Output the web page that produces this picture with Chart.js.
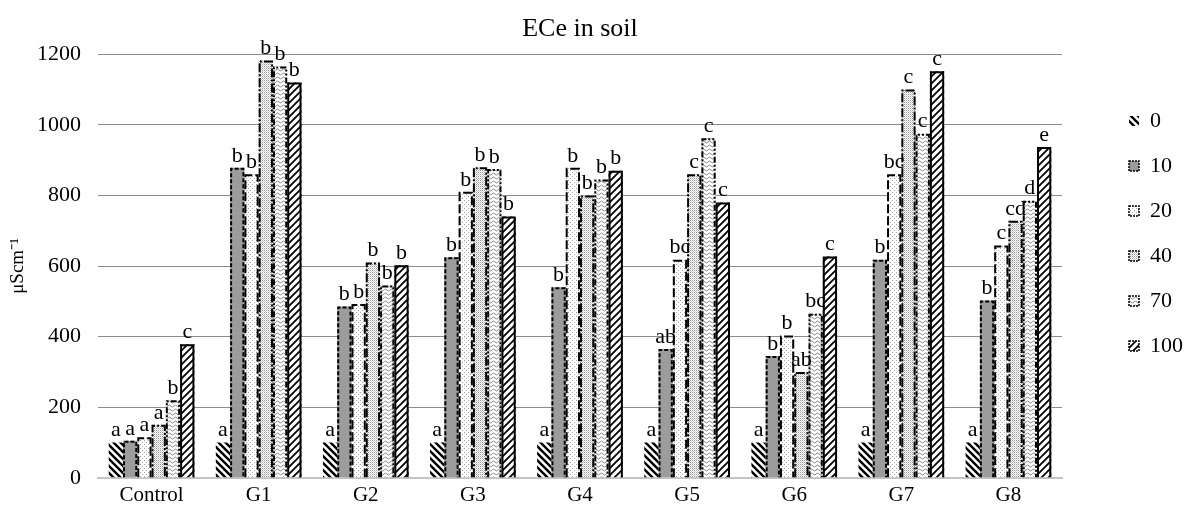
<!DOCTYPE html>
<html>
<head>
<meta charset="utf-8">
<script src="https://cdn.jsdelivr.net/npm/chart.js@4.4.1/dist/chart.umd.min.js"></script>
<style>
    html, body { margin: 0; padding: 0; background: #fff; }
    #wrap { width: 1193px; height: 513px; }
</style>
</head>
<body>
<div id="wrap"><canvas id="eceChart"></canvas></div>
<script>
// Categories and series
const groups = ['Control', 'G1', 'G2', 'G3', 'G4', 'G5', 'G6', 'G7', 'G8'];
const seriesNames = ['0', '10', '20', '40', '70', '100'];

// ECe values (µS/cm)
const ece0   = [100, 100, 100, 100, 100, 100, 100, 100, 100];
const ece10  = [105, 878, 485, 625, 540, 365, 345, 618, 502];
const ece20  = [115, 860, 492, 810, 878, 618, 403, 860, 658];
const ece40  = [150, 1182, 610, 880, 800, 860, 300, 1100, 728];
const ece70  = [220, 1165, 545, 875, 845, 962, 465, 975, 785];
const ece100 = [378, 1120, 602, 740, 870, 780, 627, 1152, 937];

// Significance letters above each bar
const let0   = ['a', 'a', 'a', 'a', 'a', 'a', 'a', 'a', 'a'];
const let10  = ['a', 'b', 'b', 'b', 'b', 'ab', 'b', 'b', 'b'];
const let20  = ['a', 'b', 'b', 'b', 'b', 'bc', 'b', 'bc', 'c'];
const let40  = ['a', 'b', 'b', 'b', 'b', 'c', 'ab', 'c', 'cd'];
const let70  = ['b', 'b', 'b', 'b', 'b', 'c', 'bc', 'c', 'd'];
const let100 = ['c', 'b', 'b', 'b', 'b', 'c', 'c', 'c', 'e'];

// Y axis ticks
const yTicks = [0, 200, 400, 600, 800, 1000, 1200];

const serif = "'Liberation Serif', 'Times New Roman', serif";

// Small pattern tiles to mimic the Excel fills
function tile(w, h, draw) {
    const c = document.createElement('canvas');
    c.width = w; c.height = h;
    const g = c.getContext('2d');
    g.fillStyle = '#fff';
    g.fillRect(0, 0, w, h);
    draw(g);
    return document.createElement('canvas').getContext('2d').createPattern(c, 'repeat');
}

function hatch(gap, lw, forward) {
    return tile(gap, gap, function(g) {
        g.strokeStyle = '#000';
        g.lineWidth = lw;
        g.beginPath();
        if (forward) {
            g.moveTo(-1, gap + 1); g.lineTo(gap + 1, -1);
            g.moveTo(-gap / 2 - 1, gap / 2 + 1); g.lineTo(gap / 2 + 1, -gap / 2 - 1);
            g.moveTo(gap / 2 - 1, gap * 1.5 + 1); g.lineTo(gap * 1.5 + 1, gap / 2 - 1);
        } else {
            g.moveTo(-1, -1); g.lineTo(gap + 1, gap + 1);
            g.moveTo(-gap / 2 - 1, gap / 2 - 1); g.lineTo(gap / 2 + 1, gap * 1.5 + 1);
            g.moveTo(gap / 2 - 1, -gap / 2 - 1); g.lineTo(gap * 1.5 + 1, gap / 2 + 1);
        }
        g.stroke();
    });
}

const fills = [
    hatch(7, 2.4, false),
    '#9c9c9c',
    tile(4, 4, function(g) {
        g.fillStyle = '#a8a8a8';
        g.fillRect(0, 0, 1, 1);
        g.fillRect(2, 2, 1, 1);
    }),
    tile(2, 2, function(g) {
        g.fillStyle = '#999';
        g.fillRect(0, 0, 1, 1);
        g.fillStyle = '#d0d0d0';
        g.fillRect(1, 1, 1, 1);
    }),
    tile(6, 4, function(g) {
        g.strokeStyle = '#8a8a8a';
        g.lineWidth = 1;
        g.beginPath();
        g.moveTo(0, 2); g.lineTo(1.5, 1); g.lineTo(3, 2); g.lineTo(4.5, 3); g.lineTo(6, 2);
        g.stroke();
    }),
    hatch(7, 1.8, true)
];

// Outline style per series (0 has none)
const outlineDash = [null, [4, 2], [9, 3], [9, 2, 2, 2], [6, 2, 2, 2, 2, 2], []];

const seriesValues = [ece0, ece10, ece20, ece40, ece70, ece100];
const seriesLetters = [let0, let10, let20, let40, let70, let100];

// Dashed outlines drawn over the bars that the library placed
const barOutlines = {
    id: 'barOutlines',
    afterDatasetsDraw(chart) {
        const ctx = chart.ctx;
        ctx.save();
        chart.data.datasets.forEach(function(ds, i) {
            const dash = outlineDash[i];
            if (!dash) return;
            chart.getDatasetMeta(i).data.forEach(function(bar) {
                const p = bar.getProps(['x', 'y', 'base', 'width'], true);
                const l = p.x - p.width / 2 + 1, r = p.x + p.width / 2 - 1;
                ctx.beginPath();
                ctx.setLineDash(dash);
                ctx.lineWidth = 2;
                ctx.strokeStyle = '#000';
                ctx.moveTo(l, p.base);
                ctx.lineTo(l, p.y + 1);
                ctx.lineTo(r, p.y + 1);
                ctx.lineTo(r, p.base);
                ctx.stroke();
            });
        });
        ctx.restore();
    }
};

// Letters above each bar
const barLetters = {
    id: 'barLetters',
    afterDatasetsDraw(chart) {
        const ctx = chart.ctx;
        ctx.save();
        ctx.font = '22px ' + serif;
        ctx.fillStyle = '#000';
        ctx.textAlign = 'center';
        ctx.textBaseline = 'bottom';
        chart.data.datasets.forEach(function(ds, i) {
            chart.getDatasetMeta(i).data.forEach(function(bar, j) {
                ctx.fillText(seriesLetters[i][j], bar.x, bar.y - 1);
            });
        });
        ctx.restore();
    }
};

// Push the legend away from the plot, like the original
const legendWiden = 44;
const legendGap = 44;
const legendDrop = 87;
const legendShift = {
    id: 'legendShift',
    beforeLayout(chart) {
        const legend = chart.legend;
        if (legend && !legend._patched) {
            const fit = legend.fit;
            legend.fit = function() {
                fit.call(this);
                this.width += legendWiden;
            };
            legend._patched = true;
        }
    },
    afterLayout(chart) {
        chart.legend.left = chart.chartArea.right + legendGap;
        chart.legend.top += legendDrop;
    }
};

document.addEventListener('DOMContentLoaded', function() {
    const ctx = document.getElementById('eceChart').getContext('2d');

    new Chart(ctx, {
        type: 'bar',
        data: {
            labels: groups,
            datasets: seriesNames.map(function(name, i) {
                return {
                    label: name,
                    data: seriesValues[i],
                    backgroundColor: fills[i],
                    borderWidth: 0,
                    barPercentage: 1,
                    categoryPercentage: 0.8
                };
            })
        },
        options: {
            responsive: true,
            maintainAspectRatio: false,
            animation: false,
            layout: {
                padding: { left: 0, right: 0, top: 0, bottom: 0 }
            },
            scales: {
                x: {
                    grid: { display: false, drawTicks: false },
                    border: { display: true, color: '#c4c4c4', width: 2 },
                    ticks: {
                        color: '#000',
                        padding: 5,
                        font: { family: serif, size: 21 }
                    }
                },
                y: {
                    min: 0,
                    max: 1200,
                    afterBuildTicks: function(axis) {
                        axis.ticks = yTicks.map(function(v) { return { value: v }; });
                    },
                    afterFit: function(axis) {
                        axis.width = 98;
                    },
                    grid: { color: '#8c8c8c', lineWidth: 1, drawTicks: false },
                    border: { display: false },
                    ticks: {
                        color: '#000',
                        padding: 17,
                        font: { family: serif, size: 22 },
                        callback: function(value) { return String(value); }
                    },
                    title: {
                        display: true,
                        text: 'μScm⁻¹',
                        color: '#000',
                        padding: { top: 7, bottom: 0 },
                        font: { family: serif, size: 19 }
                    }
                }
            },
            plugins: {
                title: {
                    display: true,
                    text: 'ECe in soil',
                    fullSize: false,
                    color: '#000',
                    padding: { top: 14, bottom: 9 },
                    font: { family: serif, size: 26, weight: 'normal' }
                },
                legend: {
                    position: 'right',
                    align: 'start',
                    labels: {
                        color: '#000',
                        boxWidth: 10,
                        boxHeight: 10,
                        padding: 23,
                        font: { family: serif, size: 22 },
                        generateLabels: function(chart) {
                            const items = Chart.defaults.plugins.legend.labels.generateLabels(chart);
                            items.forEach(function(it, i) {
                                it.strokeStyle = '#000';
                                it.lineWidth = outlineDash[i] ? 1.5 : 0;
                                it.lineDash = outlineDash[i] ? [2, 1] : [];
                            });
                            return items;
                        }
                    }
                },
                tooltip: { enabled: false }
            }
        },
        plugins: [barOutlines, barLetters, legendShift]
    });
});
</script>
</body>
</html>
